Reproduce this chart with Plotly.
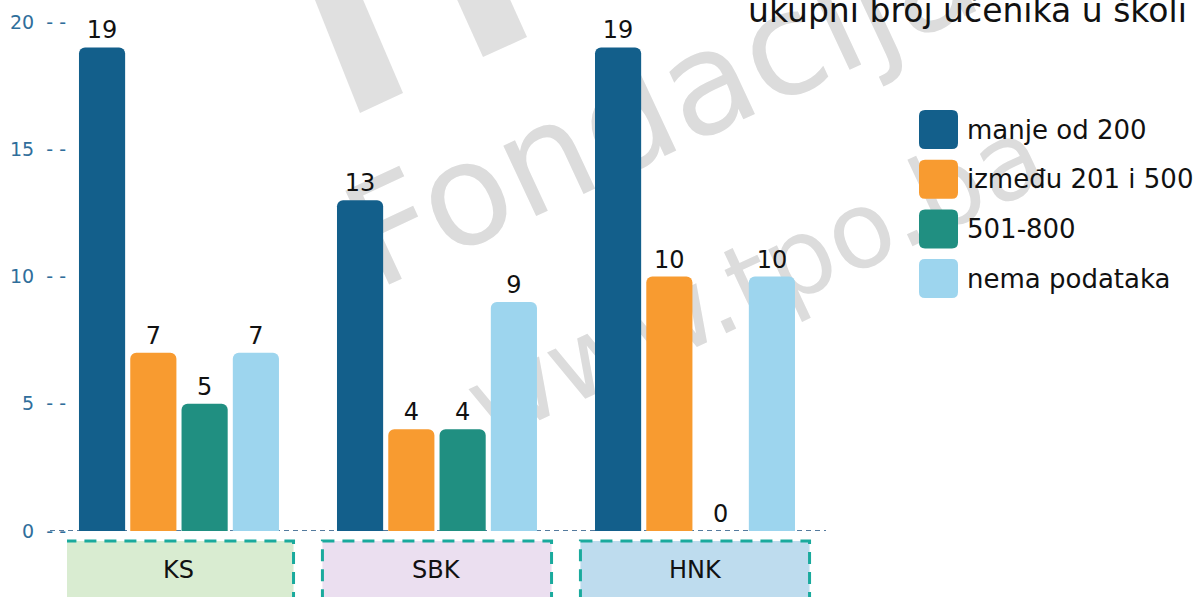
import plotly.graph_objects as go

# ---------------- data ----------------
categories = ["KS", "SBK", "HNK"]
series_names = ["manje od 200", "između 201 i 500", "501-800", "nema podataka"]
manje_od_200 = [19, 13, 19]
izmedju_201_500 = [7, 4, 10]
od_501_800 = [5, 4, 0]
nema_podataka = [7, 9, 10]
y_ticks = [0, 5, 10, 15, 20]
title_text = "ukupni broj učenika u školi"
watermark_1 = "Fondacija"
watermark_2 = "www.tpo.ba"

series_values = [manje_od_200, izmedju_201_500, od_501_800, nema_podataka]
series_colors = ["#135f8b", "#f89b30", "#208f81", "#9dd5ee"]
box_fills = ["#d9ecd1", "#ebdff0", "#bedcee"]

FONT = "DejaVu Sans"
W, H = 1195, 597
L, R, T, B = 67, 824, 22, 531  # plot area in pixels


def px(x):
    return (x - L) / (R - L)


def py(y):
    return (B - y) / (B - T)


def rrect(x0, y0, x1, y1, r):
    pts = [
        ("M", [(x0 + r, y0)]),
        ("L", [(x1 - r, y0)]),
        ("Q", [(x1, y0), (x1, y0 + r)]),
        ("L", [(x1, y1 - r)]),
        ("Q", [(x1, y1), (x1 - r, y1)]),
        ("L", [(x0 + r, y1)]),
        ("Q", [(x0, y1), (x0, y1 - r)]),
        ("L", [(x0, y0 + r)]),
        ("Q", [(x0, y0), (x0 + r, y0)]),
    ]
    s = ""
    for cmd, ps in pts:
        s += cmd + " ".join(f"{px(a):.5f},{py(b):.5f}" for a, b in ps) + " "
    return s + "Z"


def poly(points):
    return "M" + " L".join(f"{px(a):.5f},{py(b):.5f}" for a, b in points) + " Z"


fig = go.Figure()
for name, vals, col in zip(series_names, series_values, series_colors):
    fig.add_trace(go.Bar(
        x=categories, y=vals, name=name,
        marker=dict(color=col, line=dict(width=0)),
        text=[str(v) for v in vals], textposition="outside",
        textfont=dict(family=FONT, size=24, color="#111111"),
        cliponaxis=False, showlegend=False,
    ))

shapes = []
annotations = []

# watermark (behind everything)
shapes.append(dict(type="path", xref="paper", yref="paper", layer="below",
                   path=poly([(313, -5), (360, 113), (403, 93), (361, -5)]),
                   fillcolor="#e0e0e0", line=dict(width=0)))
shapes.append(dict(type="path", xref="paper", yref="paper", layer="below",
                   path=poly([(455, -5), (483, 57), (527, 37), (508, -5)]),
                   fillcolor="#e0e0e0", line=dict(width=0)))
for txt, cx, cy, size in [(watermark_1, 657, 94, 142), (watermark_2, 752, 272, 106)]:
    shapes.append(dict(type="rect", xref="paper", yref="paper", layer="below",
                       x0=px(cx - 1), x1=px(cx + 1), y0=py(cy + 1), y1=py(cy - 1),
                       fillcolor="rgba(0,0,0,0)", line=dict(width=0),
                       label=dict(text=txt, textangle=-25, textposition="middle center",
                                  font=dict(family=FONT, size=size, color="#dcdcdc"))))

# dashed zero line
shapes.append(dict(type="line", xref="paper", yref="y", layer="below",
                   x0=px(50), x1=px(826), y0=0, y1=0,
                   line=dict(color="#1d4f7e", width=1.5, dash="5px,4px")))

# category boxes
for i, cat in enumerate(categories):
    shapes.append(dict(type="rect", xref="x", yref="paper", layer="below",
                       x0=i - 0.444, x1=i + 0.444, y0=py(541), y1=py(612),
                       fillcolor=box_fills[i],
                       line=dict(color="#1aaa9d", width=3, dash="12px,8px")))
    annotations.append(dict(x=cat, xref="x", y=py(570), yref="paper",
                            text=cat, showarrow=False, yanchor="middle",
                            font=dict(family=FONT, size=24, color="#111111")))

# custom legend
for i, (name, col) in enumerate(zip(series_names, series_colors)):
    y0 = 110 + 49.7 * i
    shapes.append(dict(type="path", xref="paper", yref="paper",
                       path=rrect(919, y0, 958, y0 + 39, 6),
                       fillcolor=col, line=dict(width=0)))
    annotations.append(dict(x=px(965), y=py(y0 + 19.5), xref="paper", yref="paper",
                            text=name, showarrow=False, xanchor="left", yanchor="middle",
                            font=dict(family=FONT, size=26, color="#111111")))

# title (sits at the very top edge as in the original)
annotations.append(dict(x=px(746), y=py(32), xref="paper", yref="paper",
                        text=title_text, showarrow=False, xanchor="left", yanchor="bottom",
                        font=dict(family=FONT, size=33, color="#111111")))

fig.update_layout(
    width=W, height=H,
    margin=dict(l=L, r=W - R, t=T, b=H - B, pad=0),
    paper_bgcolor="white", plot_bgcolor="rgba(0,0,0,0)",
    barmode="group", bargap=0.205, bargroupgap=0.1, barcornerradius=6,
    showlegend=False,
    shapes=shapes, annotations=annotations,
    font=dict(family=FONT),
    xaxis=dict(type="category", range=[-0.434, 2.5], showticklabels=False,
               showgrid=False, zeroline=False, showline=False, ticks=""),
    yaxis=dict(range=[0, 20], tickvals=y_ticks,
               ticktext=[f"{v}  - -" for v in y_ticks],
               tickfont=dict(family=FONT, size=19, color="#2f6e9b"),
               showgrid=False, zeroline=False, showline=False, ticks="",
               ticklabelstandoff=0, automargin=False),
)

fig.write_html(
    "out.html",
    config={"displayModeBar": False},
    post_script="document.body.style.margin='0';document.body.style.overflow='hidden';",
)
